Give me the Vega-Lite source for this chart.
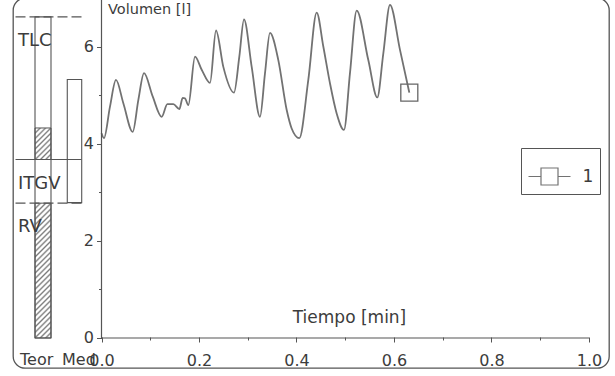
{
  "$schema": "https://vega.github.io/schema/vega-lite/v6.json",
  "width": 596,
  "height": 370,
  "autosize": {"type": "none"},
  "padding": {"left": 13, "top": -2, "right": 6, "bottom": 8},
  "background": "#ffffff",
  "config": {
    "font": "DejaVu Sans",
    "view": {"stroke": "#555555", "strokeWidth": 1.3, "cornerRadius": 12},
    "axis": {"grid": false, "domain": false, "tickColor": "#555555", "tickWidth": 1, "labelColor": "#3c3c3c", "labelFont": "DejaVu Sans", "labelFontSize": 16, "titleColor": "#3c3c3c", "titleFont": "DejaVu Sans", "titleFontWeight": "normal", "labelOverlap": false, "labelFlush": false}
  },
  "datasets": {
    "curve": [
      {"t": 0.000, "v": 4.22}, {"t": 0.0051, "v": 4.12}, {"t": 0.0174, "v": 4.77}, {"t": 0.0297, "v": 5.32},
      {"t": 0.0448, "v": 4.84}, {"t": 0.0640, "v": 4.25}, {"t": 0.0756, "v": 4.91}, {"t": 0.0872, "v": 5.46},
      {"t": 0.1050, "v": 4.98}, {"t": 0.1234, "v": 4.56}, {"t": 0.1351, "v": 4.82}, {"t": 0.1474, "v": 4.82},
      {"t": 0.1597, "v": 4.72}, {"t": 0.1665, "v": 4.95}, {"t": 0.1713, "v": 4.94}, {"t": 0.1781, "v": 4.80},
      {"t": 0.1918, "v": 5.80}, {"t": 0.2055, "v": 5.53}, {"t": 0.2226, "v": 5.26}, {"t": 0.2349, "v": 6.34},
      {"t": 0.2499, "v": 5.59}, {"t": 0.2718, "v": 5.06}, {"t": 0.2827, "v": 5.80}, {"t": 0.2923, "v": 6.57},
      {"t": 0.3081, "v": 5.59}, {"t": 0.3251, "v": 4.56}, {"t": 0.3354, "v": 5.46}, {"t": 0.3456, "v": 6.29},
      {"t": 0.3627, "v": 5.73}, {"t": 0.3799, "v": 4.70}, {"t": 0.3901, "v": 4.32}, {"t": 0.4057, "v": 4.12},
      {"t": 0.4242, "v": 5.32}, {"t": 0.4414, "v": 6.71}, {"t": 0.4550, "v": 6.01}, {"t": 0.4687, "v": 5.25},
      {"t": 0.4824, "v": 4.63}, {"t": 0.4974, "v": 4.29}, {"t": 0.5097, "v": 5.46}, {"t": 0.5235, "v": 6.75},
      {"t": 0.5473, "v": 5.73}, {"t": 0.5657, "v": 4.96}, {"t": 0.5781, "v": 5.87}, {"t": 0.5918, "v": 6.87},
      {"t": 0.6123, "v": 5.94}, {"t": 0.6314, "v": 5.06}
    ],
    "vol": [
      {"col": "Teor", "part": "TLC", "from": 0, "to": 6.62},
      {"col": "Teor", "part": "RV", "from": 0, "to": 2.78},
      {"col": "Teor", "part": "ITGV", "from": 3.68, "to": 4.33},
      {"col": "Med", "part": "VC", "from": 2.79, "to": 5.33}
    ],
    "refs": [
      {"param": "TLC", "value": 6.62},
      {"param": "ITGV", "value": 3.68},
      {"param": "RV", "value": 2.78}
    ]
  },
  "layer": [
    {
      "data": {"name": "curve"},
      "mark": {"type": "line", "interpolate": "monotone", "strokeWidth": 1.8},
      "encoding": {
        "x": {"field": "t", "type": "quantitative",
          "scale": {"domain": [-0.18154, 1.04103], "nice": false, "zero": false},
          "axis": {"orient": "bottom", "offset": -31, "title": "Tiempo [min]",
            "titleFontSize": 17, "titleX": 336, "titleY": -15, "titleAlign": "center", "titleBaseline": "alphabetic", "titleAngle": 0,
            "values": [0, 0.05, 0.1, 0.15, 0.2, 0.25, 0.3, 0.35, 0.4, 0.45, 0.5, 0.55, 0.6, 0.65, 0.7, 0.75, 0.8, 0.85, 0.9, 0.95, 1.0],
            "labelExpr": "abs(datum.value*5 - round(datum.value*5)) < 0.001 ? format(datum.value, '.1f') : ''",
            "tickSize": {"condition": {"test": "abs(datum.value*5 - round(datum.value*5)) < 0.001", "value": 5}, "value": 3},
            "labelPadding": 10}},
        "y": {"field": "v", "type": "quantitative",
          "scale": {"domain": [-0.619, 7.010], "nice": false, "zero": false},
          "axis": {"orient": "left", "offset": -88.5, "title": "Volumen [l]",
            "titleFontSize": 14.5, "titleX": 6, "titleY": 15, "titleAlign": "left", "titleBaseline": "alphabetic", "titleAngle": 0,
            "values": [0, 0.5, 1, 1.5, 2, 2.5, 3, 3.5, 4, 4.5, 5, 5.5, 6, 6.5],
            "labelExpr": "datum.value % 2 == 0 ? format(datum.value, 'd') : ''",
            "tickSize": {"condition": {"test": "datum.value % 2 == 0", "value": 5}, "value": 3},
            "labelPadding": 3}},
        "color": {"datum": "1", "type": "nominal",
          "scale": {"range": ["#727272"]},
          "legend": {"orient": "none", "legendX": 508, "legendY": 150, "title": null,
            "symbolType": "M-1,0H-0.405M0.405,0H1M-0.405,-0.405H0.405V0.405H-0.405Z",
            "symbolSize": 1764, "symbolStrokeWidth": 1.2, "symbolFillColor": "transparent",
            "strokeColor": "#555555", "padding": 6.5, "symbolOffset": 0, "labelOffset": 11,
            "labelFontSize": 17, "labelColor": "#3c3c3c", "labelFont": "DejaVu Sans"}}
      }
    },
    {
      "data": {"name": "curve"},
      "transform": [
        {"joinaggregate": [{"op": "max", "field": "t", "as": "tmax"}]},
        {"filter": "datum.t == datum.tmax"}
      ],
      "mark": {"type": "point", "shape": "square", "size": 289, "filled": false, "stroke": "#666666", "strokeWidth": 1.3, "opacity": 1},
      "encoding": {
        "x": {"field": "t", "type": "quantitative"},
        "y": {"field": "v", "type": "quantitative"}
      }
    },
    {
      "data": {"name": "vol"},
      "transform": [{"filter": "datum.col == 'Teor' && datum.part == 'RV'"}],
      "mark": {"type": "rect", "stroke": "#555555", "strokeWidth": 1,
        "fill": {"gradient": "linear", "x1": 0, "y1": 0, "x2": 0.1307, "y2": 1.1031, "stops": [
          {"offset": 0, "color": "#7a7a7a"}, {"offset": 0.0125, "color": "#ffffff"}, {"offset": 0.0232, "color": "#ffffff"},
          {"offset": 0.0357, "color": "#7a7a7a"}, {"offset": 0.0482, "color": "#ffffff"}, {"offset": 0.0589, "color": "#ffffff"},
          {"offset": 0.0714, "color": "#7a7a7a"}, {"offset": 0.0839, "color": "#ffffff"}, {"offset": 0.0946, "color": "#ffffff"},
          {"offset": 0.1071, "color": "#7a7a7a"}, {"offset": 0.1196, "color": "#ffffff"}, {"offset": 0.1304, "color": "#ffffff"},
          {"offset": 0.1429, "color": "#7a7a7a"}, {"offset": 0.1554, "color": "#ffffff"}, {"offset": 0.1661, "color": "#ffffff"},
          {"offset": 0.1786, "color": "#7a7a7a"}, {"offset": 0.1911, "color": "#ffffff"}, {"offset": 0.2018, "color": "#ffffff"},
          {"offset": 0.2143, "color": "#7a7a7a"}, {"offset": 0.2268, "color": "#ffffff"}, {"offset": 0.2375, "color": "#ffffff"},
          {"offset": 0.25, "color": "#7a7a7a"}, {"offset": 0.2625, "color": "#ffffff"}, {"offset": 0.2732, "color": "#ffffff"},
          {"offset": 0.2857, "color": "#7a7a7a"}, {"offset": 0.2982, "color": "#ffffff"}, {"offset": 0.3089, "color": "#ffffff"},
          {"offset": 0.3214, "color": "#7a7a7a"}, {"offset": 0.3339, "color": "#ffffff"}, {"offset": 0.3446, "color": "#ffffff"},
          {"offset": 0.3571, "color": "#7a7a7a"}, {"offset": 0.3696, "color": "#ffffff"}, {"offset": 0.3804, "color": "#ffffff"},
          {"offset": 0.3929, "color": "#7a7a7a"}, {"offset": 0.4054, "color": "#ffffff"}, {"offset": 0.4161, "color": "#ffffff"},
          {"offset": 0.4286, "color": "#7a7a7a"}, {"offset": 0.4411, "color": "#ffffff"}, {"offset": 0.4518, "color": "#ffffff"},
          {"offset": 0.4643, "color": "#7a7a7a"}, {"offset": 0.4768, "color": "#ffffff"}, {"offset": 0.4875, "color": "#ffffff"},
          {"offset": 0.5, "color": "#7a7a7a"}, {"offset": 0.5125, "color": "#ffffff"}, {"offset": 0.5232, "color": "#ffffff"},
          {"offset": 0.5357, "color": "#7a7a7a"}, {"offset": 0.5482, "color": "#ffffff"}, {"offset": 0.5589, "color": "#ffffff"},
          {"offset": 0.5714, "color": "#7a7a7a"}, {"offset": 0.5839, "color": "#ffffff"}, {"offset": 0.5946, "color": "#ffffff"},
          {"offset": 0.6071, "color": "#7a7a7a"}, {"offset": 0.6196, "color": "#ffffff"}, {"offset": 0.6304, "color": "#ffffff"},
          {"offset": 0.6429, "color": "#7a7a7a"}, {"offset": 0.6554, "color": "#ffffff"}, {"offset": 0.6661, "color": "#ffffff"},
          {"offset": 0.6786, "color": "#7a7a7a"}, {"offset": 0.6911, "color": "#ffffff"}, {"offset": 0.7018, "color": "#ffffff"},
          {"offset": 0.7143, "color": "#7a7a7a"}, {"offset": 0.7268, "color": "#ffffff"}, {"offset": 0.7375, "color": "#ffffff"},
          {"offset": 0.75, "color": "#7a7a7a"}, {"offset": 0.7625, "color": "#ffffff"}, {"offset": 0.7732, "color": "#ffffff"},
          {"offset": 0.7857, "color": "#7a7a7a"}, {"offset": 0.7982, "color": "#ffffff"}, {"offset": 0.8089, "color": "#ffffff"},
          {"offset": 0.8214, "color": "#7a7a7a"}, {"offset": 0.8339, "color": "#ffffff"}, {"offset": 0.8446, "color": "#ffffff"},
          {"offset": 0.8571, "color": "#7a7a7a"}, {"offset": 0.8696, "color": "#ffffff"}, {"offset": 0.8804, "color": "#ffffff"},
          {"offset": 0.8929, "color": "#7a7a7a"}, {"offset": 0.9054, "color": "#ffffff"}, {"offset": 0.9161, "color": "#ffffff"},
          {"offset": 0.9286, "color": "#7a7a7a"}, {"offset": 0.9411, "color": "#ffffff"}, {"offset": 0.9518, "color": "#ffffff"},
          {"offset": 0.9643, "color": "#7a7a7a"}, {"offset": 0.9768, "color": "#ffffff"}, {"offset": 0.9875, "color": "#ffffff"},
          {"offset": 1, "color": "#7a7a7a"}
        ]}},
      "encoding": {
        "x": {"datum": -0.1364, "type": "quantitative"},
        "x2": {"datum": -0.1036},
        "y": {"field": "from", "type": "quantitative"},
        "y2": {"field": "to"}
      }
    },
    {
      "data": {"name": "vol"},
      "transform": [{"filter": "datum.col == 'Teor' && datum.part == 'ITGV'"}],
      "mark": {"type": "rect", "stroke": "#555555", "strokeWidth": 1,
        "fill": {"gradient": "linear", "x1": 0, "y1": 0, "x2": 0.6089, "y2": 1.1987, "stops": [
          {"offset": 0, "color": "#7a7a7a"}, {"offset": 0.0389, "color": "#ffffff"}, {"offset": 0.0722, "color": "#ffffff"},
          {"offset": 0.1111, "color": "#7a7a7a"}, {"offset": 0.15, "color": "#ffffff"}, {"offset": 0.1833, "color": "#ffffff"},
          {"offset": 0.2222, "color": "#7a7a7a"}, {"offset": 0.2611, "color": "#ffffff"}, {"offset": 0.2944, "color": "#ffffff"},
          {"offset": 0.3333, "color": "#7a7a7a"}, {"offset": 0.3722, "color": "#ffffff"}, {"offset": 0.4056, "color": "#ffffff"},
          {"offset": 0.4444, "color": "#7a7a7a"}, {"offset": 0.4833, "color": "#ffffff"}, {"offset": 0.5167, "color": "#ffffff"},
          {"offset": 0.5556, "color": "#7a7a7a"}, {"offset": 0.5944, "color": "#ffffff"}, {"offset": 0.6278, "color": "#ffffff"},
          {"offset": 0.6667, "color": "#7a7a7a"}, {"offset": 0.7056, "color": "#ffffff"}, {"offset": 0.7389, "color": "#ffffff"},
          {"offset": 0.7778, "color": "#7a7a7a"}, {"offset": 0.8167, "color": "#ffffff"}, {"offset": 0.85, "color": "#ffffff"},
          {"offset": 0.8889, "color": "#7a7a7a"}, {"offset": 0.9278, "color": "#ffffff"}, {"offset": 0.9611, "color": "#ffffff"},
          {"offset": 1, "color": "#7a7a7a"}
        ]}},
      "encoding": {
        "x": {"datum": -0.1364, "type": "quantitative"},
        "x2": {"datum": -0.1036},
        "y": {"field": "from", "type": "quantitative"},
        "y2": {"field": "to"}
      }
    },
    {
      "data": {"name": "vol"},
      "transform": [{"filter": "datum.col == 'Teor' && datum.part == 'TLC'"}],
      "mark": {"type": "rect", "fill": "transparent", "stroke": "#555555", "strokeWidth": 1.1},
      "encoding": {
        "x": {"datum": -0.1364, "type": "quantitative"},
        "x2": {"datum": -0.1036},
        "y": {"field": "from", "type": "quantitative"},
        "y2": {"field": "to"}
      }
    },
    {
      "data": {"name": "vol"},
      "transform": [{"filter": "datum.col == 'Med'"}],
      "mark": {"type": "rect", "fill": "transparent", "stroke": "#555555", "strokeWidth": 1.1},
      "encoding": {
        "x": {"datum": -0.0702, "type": "quantitative"},
        "x2": {"datum": -0.0406},
        "y": {"field": "from", "type": "quantitative"},
        "y2": {"field": "to"}
      }
    },
    {
      "data": {"name": "refs"},
      "mark": {"type": "rule", "color": "#555555", "strokeWidth": 1.1},
      "encoding": {
        "x": {"datum": -0.1764, "type": "quantitative"},
        "x2": {"datum": -0.041},
        "y": {"field": "value", "type": "quantitative"},
        "strokeDash": {"field": "param", "type": "nominal",
          "scale": {"domain": ["TLC", "ITGV", "RV"], "range": [[10, 4], [1, 0], [10, 4]]},
          "legend": null}
      }
    },
    {
      "data": {"name": "refs"},
      "mark": {"type": "text", "align": "left", "baseline": "alphabetic", "dy": 29, "fontSize": 18, "font": "DejaVu Sans", "color": "#3c3c3c"},
      "encoding": {
        "x": {"datum": -0.1713, "type": "quantitative"},
        "y": {"field": "value", "type": "quantitative"},
        "text": {"field": "param"}
      }
    },
    {
      "data": {"values": [{"col": "Teor"}]},
      "mark": {"type": "text", "align": "left", "baseline": "alphabetic", "fontSize": 16, "font": "DejaVu Sans", "color": "#3c3c3c"},
      "encoding": {
        "x": {"datum": -0.1672, "type": "quantitative"},
        "y": {"datum": -0.557, "type": "quantitative"},
        "text": {"field": "col"}
      }
    },
    {
      "data": {"values": [{"col": "Med"}]},
      "mark": {"type": "text", "align": "left", "baseline": "alphabetic", "fontSize": 16, "font": "DejaVu Sans", "color": "#3c3c3c"},
      "encoding": {
        "x": {"datum": -0.081, "type": "quantitative"},
        "y": {"datum": -0.557, "type": "quantitative"},
        "text": {"field": "col"}
      }
    },
    {
      "data": {"values": [{}]},
      "mark": {"type": "rule", "color": "#555555", "strokeWidth": 1.2},
      "encoding": {
        "x": {"datum": 0, "type": "quantitative"},
        "x2": {"datum": 1.0},
        "y": {"datum": 0, "type": "quantitative"}
      }
    },
    {
      "data": {"values": [{}]},
      "mark": {"type": "rule", "color": "#555555", "strokeWidth": 1.2},
      "encoding": {
        "x": {"datum": 0, "type": "quantitative"},
        "y": {"datum": 0, "type": "quantitative"},
        "y2": {"datum": 7.01}
      }
    }
  ]
}
